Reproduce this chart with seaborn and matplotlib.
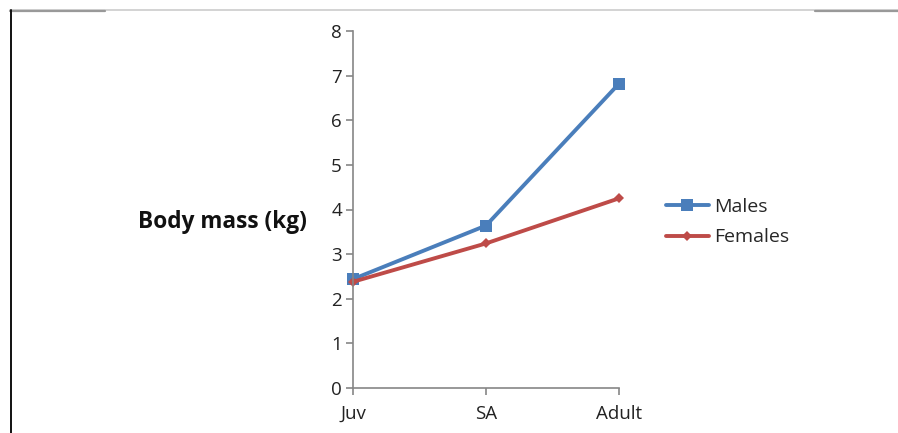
import matplotlib
matplotlib.use("Agg")
import matplotlib.pyplot as plt
import matplotlib.lines as mlines
import seaborn as sns
import pandas as pd

stages = ["Juv", "SA", "Adult"]
males = [2.44, 3.64, 6.82]
females = [2.38, 3.24, 4.25]
series_names = ["Males", "Females"]
y_ticks = [0, 1, 2, 3, 4, 5, 6, 7, 8]

sns.set_style("white")
plt.rcParams['font.family'] = ['Open Sans', 'DejaVu Sans']

df = pd.DataFrame({
    "stage": stages * 2,
    "x": list(range(len(stages))) * 2,
    "mass": males + females,
    "sex": [series_names[0]] * 3 + [series_names[1]] * 3,
})

fig = plt.figure(figsize=(8.98, 4.33), dpi=100)
ax = fig.add_axes([353/898, 1 - 388/433, (619 - 353)/898, (388 - 31)/433])

palette = {"Males": "#4A7EBB", "Females": "#BE4B48"}
markers = {"Males": "s", "Females": "D"}
sns.lineplot(data=df, x="x", y="mass", hue="sex", style="sex", palette=palette,
             markers=markers, dashes=False, linewidth=2.8, ax=ax, legend=False,
             markeredgewidth=0)
for line, name in zip(ax.get_lines(), series_names):
    line.set_markersize(8 if name == "Males" else 5.5)
    line.set_clip_on(False)

ax.set_xlim(0, 2)
ax.set_ylim(0, 8)
ax.set_xticks(range(len(stages)))
ax.set_xticklabels(stages)
ax.set_yticks(y_ticks)
ax.set_xlabel("")
ax.set_ylabel("")
for s in ["top", "right"]:
    ax.spines[s].set_visible(False)
for s in ["left", "bottom"]:
    ax.spines[s].set_color("#868686")
    ax.spines[s].set_linewidth(1.2)
ax.tick_params(axis="both", which="both", direction="out", length=5, width=1.2,
               color="#868686", labelsize=13.5, labelcolor="#222222", pad=3,
               left=True, bottom=True)
ax.tick_params(axis="x", pad=7)

fig.text(222/898, 1 - 222/433, "Body mass (kg)", fontsize=16.3, fontweight="bold",
         ha="center", va="center", color="#111111")

handles = [mlines.Line2D([], [], color=palette[n], marker=markers[n], linewidth=2.8,
                         markersize=(8 if n == "Males" else 5.5), markeredgewidth=0)
           for n in series_names]
fig.legend(handles, series_names, loc="center left",
           bbox_to_anchor=(656/898, 1 - 222/433), frameon=False, fontsize=14,
           handlelength=2.2, handletextpad=0.3, labelspacing=0.65, borderpad=0)

# page frame lines
fig.add_artist(mlines.Line2D([10/898, 1.0], [1 - 10/433, 1 - 10/433],
                             color="#cccccc", linewidth=1.2, transform=fig.transFigure))
fig.add_artist(mlines.Line2D([10/898, 105/898], [1 - 10.5/433, 1 - 10.5/433],
                             color="#999999", linewidth=1.6, transform=fig.transFigure))
fig.add_artist(mlines.Line2D([815/898, 1.0], [1 - 10.5/433, 1 - 10.5/433],
                             color="#999999", linewidth=1.6, transform=fig.transFigure))
fig.add_artist(mlines.Line2D([11/898, 11/898], [1 - 10/433, 0],
                             color="#111111", linewidth=1.4, transform=fig.transFigure))

fig.savefig("out.png", dpi=100, facecolor="white")
